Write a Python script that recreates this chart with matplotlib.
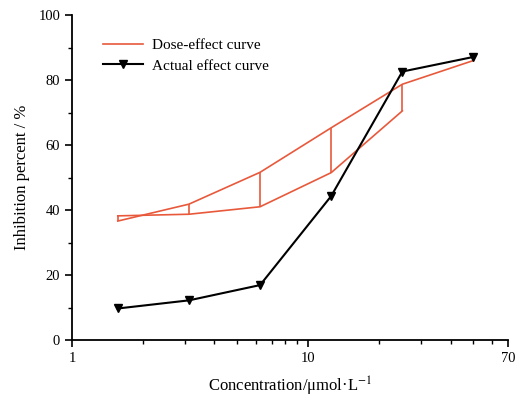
import matplotlib.pyplot as plt
from matplotlib.ticker import FixedLocator, NullFormatter
from matplotlib.lines import Line2D

# concentration (umol/L) and inhibition (%)
conc = [1.5625, 3.125, 6.25, 12.5, 25, 50]
dose_upper = [36.6, 41.8, 51.6, 65.3, 78.7, 86.0]
# lower bound of the dose-effect band stops at 25 umol/L
dose_lower = [38.2, 38.7, 41.0, 51.5, 70.5]
actual = [9.7, 12.2, 16.9, 44.3, 82.6, 87.1]

xticks = [1, 10, 70]
xtick_labels = ["1", "10", "70"]
xminor = [2, 3, 4, 5, 6, 7, 8, 9, 20, 30, 40, 50, 60]

red = "#e8593c"

plt.rcParams['font.family'] = ['Liberation Serif', 'DejaVu Serif']
plt.rcParams['mathtext.fontset'] = 'stix'

fig = plt.figure(figsize=(5.24, 3.98), dpi=100)
ax = fig.add_axes([0.1374, 0.1457, 0.8321, 0.8166])

# dose-effect band: two curves joined by vertical segments
n = len(dose_lower)
ax.plot(conc, dose_upper, color=red, lw=1.2)
ax.plot(conc[:n], dose_lower, color=red, lw=1.2)
ax.vlines(conc[:n], dose_lower, dose_upper[:n], color=red, lw=1.2)

ax.plot(conc, actual, color="black", lw=1.5, marker="v", ms=6)

ax.set_xscale("log")
ax.set_xlim(1, 70)
ax.set_ylim(0, 100)
ax.xaxis.set_major_locator(FixedLocator(xticks))
ax.set_xticklabels(xtick_labels)
ax.xaxis.set_minor_locator(FixedLocator(xminor))
ax.xaxis.set_minor_formatter(NullFormatter())
ax.set_yticks([0, 20, 40, 60, 80, 100])
ax.set_yticks([10, 30, 50, 70, 90], minor=True)

ax.spines["top"].set_visible(False)
ax.spines["right"].set_visible(False)
ax.spines["left"].set_linewidth(1.3)
ax.spines["bottom"].set_linewidth(1.3)
ax.tick_params(which="major", direction="out", length=5, width=1.2, labelsize=10.5)
ax.tick_params(which="minor", direction="out", length=3, width=1.0)

ax.set_xlabel("Concentration/μmol·L$^{-1}$", fontsize=12, labelpad=7)
ax.set_ylabel("Inhibition percent / %", fontsize=12, labelpad=6)

handles = [Line2D([], [], color=red, lw=1.2),
           Line2D([], [], color="black", lw=1.5, marker="v", ms=6)]
ax.legend(handles, ["Dose-effect curve", "Actual effect curve"],
          loc="upper left", bbox_to_anchor=(0.04, 0.97), frameon=False,
          fontsize=11, handlelength=2.6, handletextpad=0.6, labelspacing=0.45)

fig.savefig("out.png", dpi=100)
